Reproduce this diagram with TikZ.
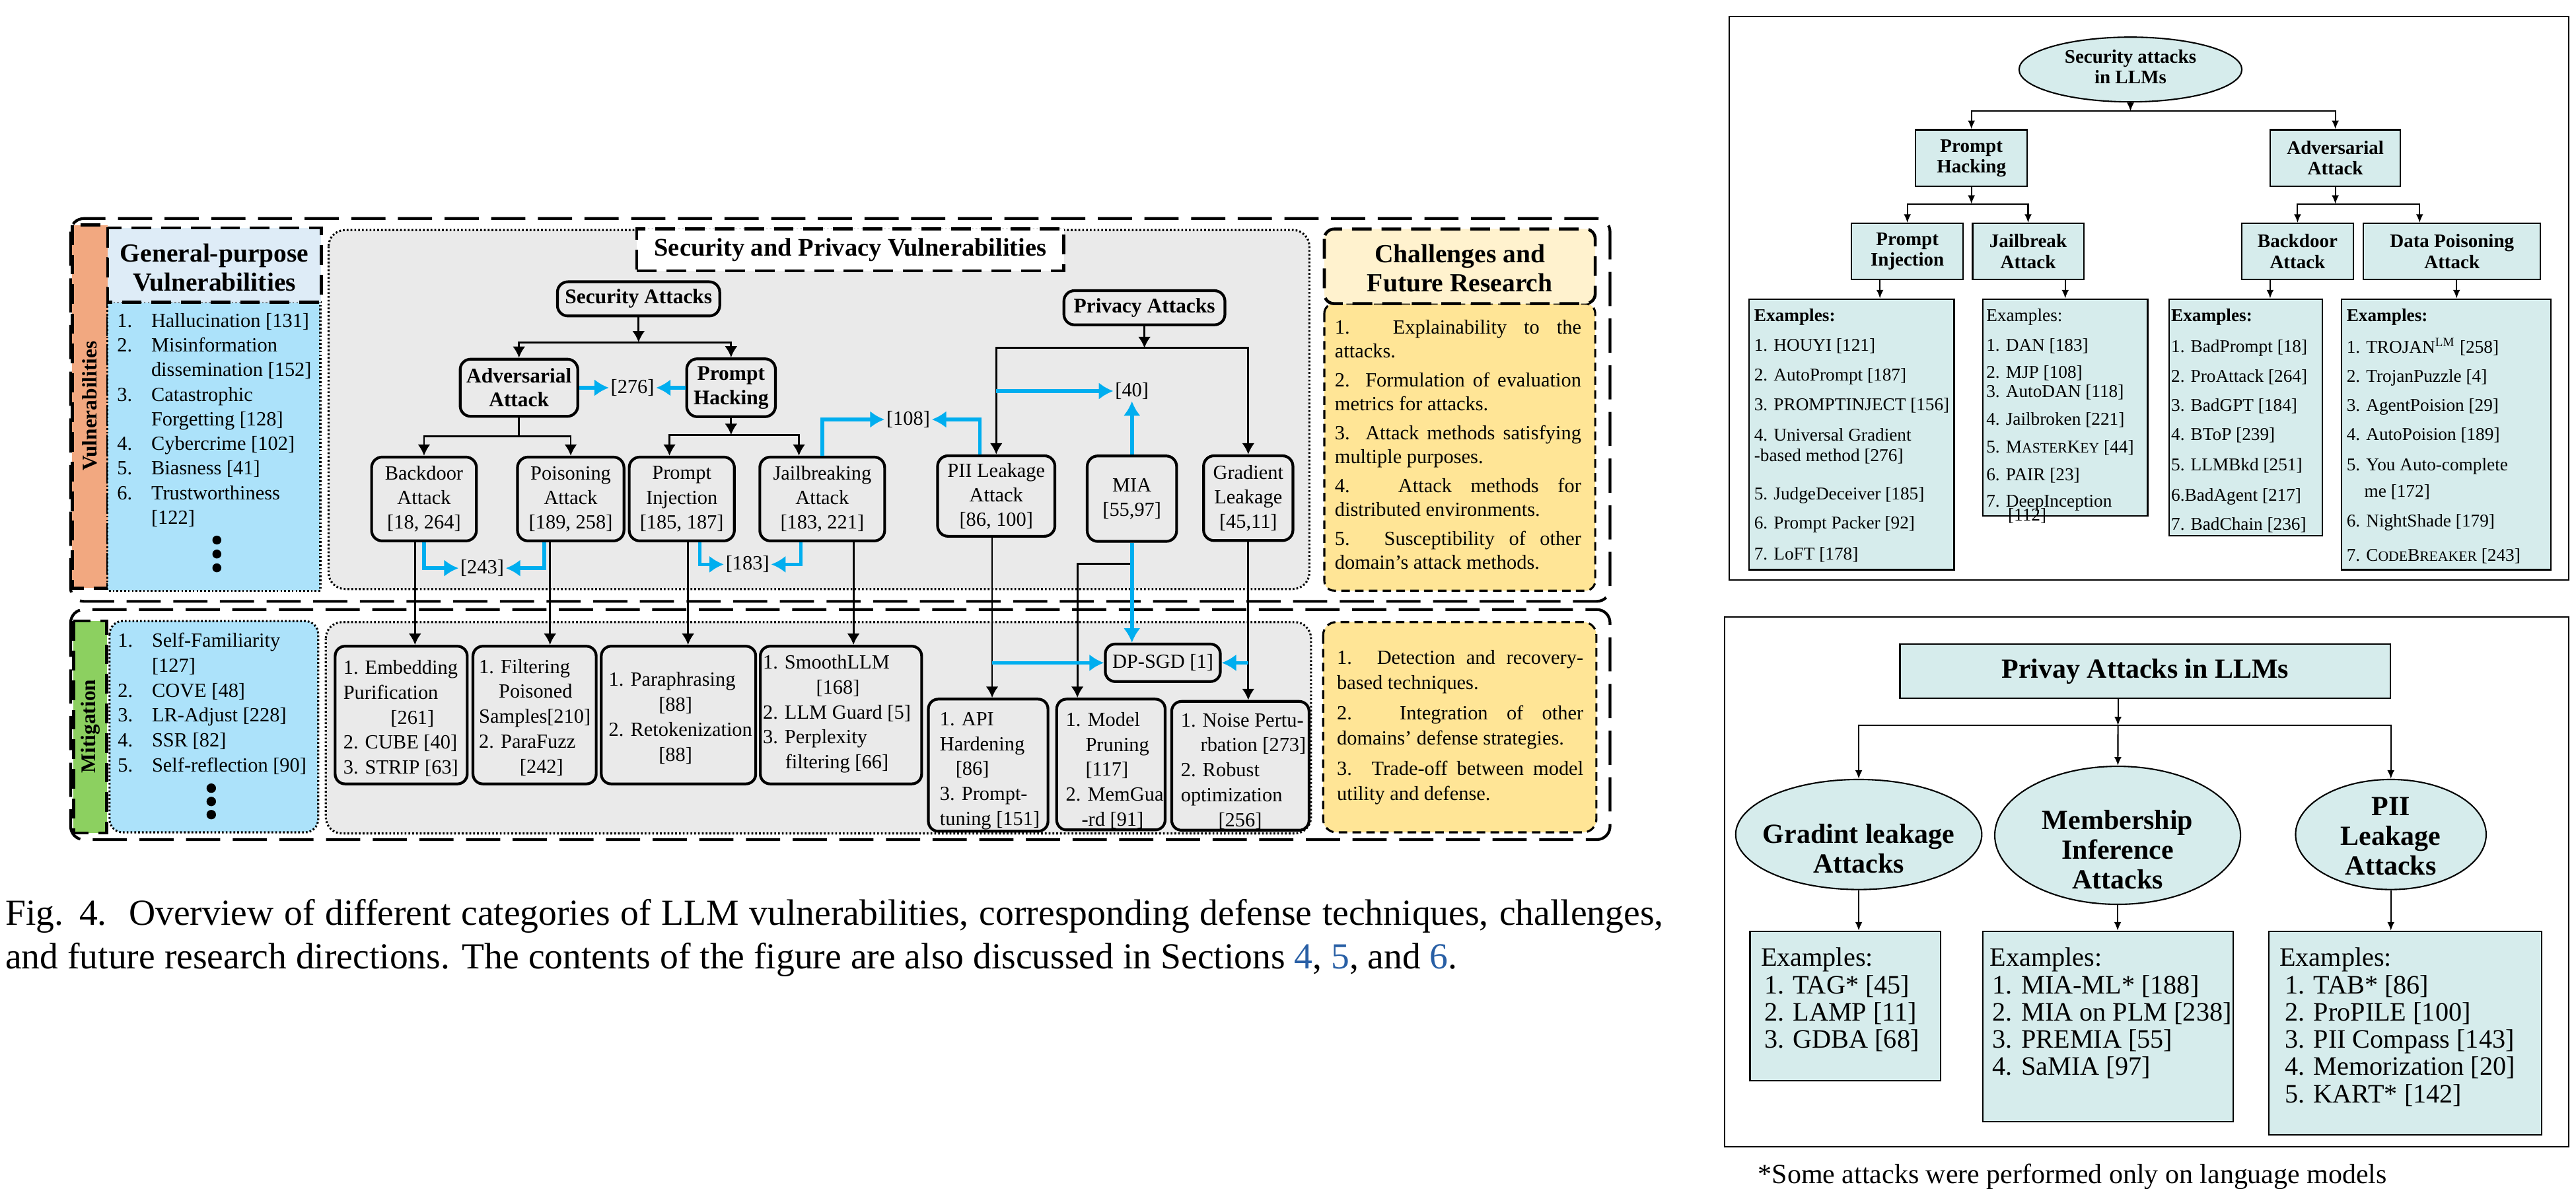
\documentclass[tikz,border=0pt]{standalone}
\usepackage{fontspec}
\setmainfont{Liberation Serif}
\usetikzlibrary{calc,shapes.geometric,arrows.meta}
\setlength{\parindent}{0pt}

\definecolor{vulnorange}{RGB}{242,168,128}
\definecolor{mitgreen}{RGB}{140,208,96}
\definecolor{listblue}{RGB}{172,226,250}
\definecolor{headblue}{RGB}{222,236,247}
\definecolor{panelgray}{RGB}{234,234,234}
\definecolor{headyellow}{RGB}{255,242,206}
\definecolor{listyellow}{RGB}{255,229,150}
\definecolor{linkblue}{RGB}{0,174,239}
\definecolor{tealbox}{RGB}{214,236,236}
\definecolor{refblue}{RGB}{40,95,165}

\newcommand{\numlab}[1]{\makebox[5.2mm][l]{#1}}
\newcommand{\fakesc}[1]{{\fontsize{6.2pt}{8pt}\selectfont #1}}

\tikzset{
  outerbox/.style={draw, line width=1.2pt, dash pattern=on 5.2mm off 1.9mm, rounded corners=2mm},
  headbox/.style={draw, line width=1.3pt, dash pattern=on 3mm off 1.5mm},
  dotpanel/.style={draw, line width=0.9pt, dash pattern=on 0.75pt off 0.9pt},
  finedash/.style={draw, line width=0.9pt, dash pattern=on 1.3mm off 0.8mm, rounded corners=1.5mm},
  sidelabel/.style={rotate=90, font=\bfseries\fontsize{9}{10}\selectfont},
  headtitle/.style={align=center, font=\bfseries\fontsize{11.3}{12.6}\selectfont},
  atk/.style={draw, line width=1.2pt, rounded corners=1.6mm, fill=panelgray, align=center, inner sep=1pt, font=\fontsize{8.7}{10.6}\selectfont},
  atkhead/.style={atk, font=\bfseries\fontsize{9}{10.4}\selectfont},
  mitbox/.style={draw, line width=1.2pt, rounded corners=1.5mm, fill=panelgray, inner sep=0pt},
  bodytext/.style={anchor=north west, inner sep=0pt, align=left, font=\fontsize{8.7}{10.8}\selectfont},
  reflab/.style={inner sep=0.6pt, font=\fontsize{8.7}{10}\selectfont},
  tree/.style={draw, line width=0.8pt, -{Latex[length=1.7mm,width=1.9mm]}},
  treeline/.style={draw, line width=0.8pt},
  bluelink/.style={draw=linkblue, line width=1.6pt, -{Latex[length=2.2mm,width=2.6mm]}},
  thinframe/.style={draw, line width=0.6pt},
  tealrect/.style={draw, line width=0.6pt, fill=tealbox, align=center, inner sep=0pt, font=\bfseries\fontsize{8.3}{8.9}\selectfont},
  tealell/.style={draw, line width=0.6pt, fill=tealbox, ellipse, inner sep=0pt},
  elltext/.style={align=center, inner sep=0pt, font=\bfseries\fontsize{12}{12.8}\selectfont},
  exbox/.style={draw, line width=0.6pt, fill=tealbox, inner sep=0pt, anchor=north west},
  exlist/.style={anchor=north west, inner sep=0pt, align=left, font=\fontsize{7.8}{8.8}\selectfont},
  exlistb/.style={anchor=north west, inner sep=0pt, align=left, font=\fontsize{11.5}{11.8}\selectfont},
  thinarrow/.style={draw, line width=0.6pt, -{Latex[length=1.3mm,width=1.1mm]}},
}

\begin{document}
\begin{tikzpicture}[x=0.25mm,y=-0.25mm]
\fill[white] (0,0) rectangle (1568,726);
\useasboundingbox (0,0) rectangle (1568,726);

% ---------------- overview (left) ----------------
\draw[outerbox] (43,133) rectangle (980,366);
\draw[outerbox] (43,371) rectangle (980,511);

\draw[headbox, fill=vulnorange] (44,137) rectangle (65.5,358);
\node[sidelabel] (vulnlab) at (54.8,247) {Vulnerabilities};
\draw[headbox, fill=mitgreen] (44.8,378) rectangle (65,507);
\node[sidelabel] (mitlab) at (55,442) {Mitigation};

% general-purpose column
\draw[dotpanel, fill=listblue] (65.5,184) rectangle (195,359.5);
\draw[headbox, fill=headblue] (65.5,138.7) rectangle (195.5,184);
\node[headtitle] (gptitle) at (130.5,162.9) {General-purpose\\Vulnerabilities};
\node[bodytext, font=\fontsize{8.7}{10.65}\selectfont] (gplist) at (71,190.4) {\numlab{1.}Hallucination [131]\\
\numlab{2.}Misinformation\\
\hspace*{5.2mm}dissemination [152]\\
\numlab{3.}Catastrophic\\
\hspace*{5.2mm}Forgetting [128]\\
\numlab{4.}Cybercrime [102]\\
\numlab{5.}Biasness [41]\\
\numlab{6.}Trustworthiness\\
\hspace*{5.2mm}[122]};
\foreach \y in {328.7,337.2,345.6} \fill (132,\y) circle (0.68mm);

\draw[dotpanel, fill=listblue, rounded corners=2mm] (66.7,378) rectangle (193.7,506.6);
\node[bodytext] (mitlist) at (71.4,384.9) {\numlab{1.}Self-Familiarity\\
\hspace*{5.2mm}[127]\\
\numlab{2.}COVE [48]\\
\numlab{3.}LR-Adjust [228]\\
\numlab{4.}SSR [82]\\
\numlab{5.}Self-reflection [90]};
\foreach \y in {479.7,487.8,495.8} \fill (128.6,\y) circle (0.72mm);

% security and privacy panels
\draw[dotpanel, fill=panelgray, rounded corners=2.5mm] (200,140) rectangle (797,358.5);
\draw[dotpanel, fill=panelgray, rounded corners=2.5mm] (198.3,378.6) rectangle (798,507.3);
\node[headbox, fill=white, inner sep=0pt, minimum width=65mm, minimum height=6.35mm, font=\bfseries\fontsize{11}{12}\selectfont] (sptitle) at (517.6,152.1) {Security and Privacy Vulnerabilities};

% challenges column
\draw[finedash, fill=listyellow] (806.1,184.8) rectangle (971,359.5);
\draw[headbox, fill=headyellow, rounded corners=1.5mm] (806.1,139.4) rectangle (971,184.8);
\node[headtitle] (chtitle) at (888.6,163.3) {Challenges and\\Future Research};
\node[bodytext, align=justify, text width=37.5mm, font=\fontsize{8.7}{10.35}\selectfont] (chlist) at (812.2,194.3) {1. Explainability to the\linebreak attacks.\par\vspace{2.2pt}
2. Formulation of evaluation\linebreak metrics for attacks.\par\vspace{2.2pt}
3. Attack methods satisfying\linebreak multiple purposes.\par\vspace{2.2pt}
4. Attack methods for\linebreak distributed environments.\par\vspace{2.2pt}
5. Susceptibility of other\linebreak domain's attack methods.};

\draw[finedash, fill=listyellow, rounded corners=2mm] (805.4,378.6) rectangle (971.7,506.6);
\node[bodytext, align=justify, text width=37.5mm, font=\fontsize{8.7}{10.8}\selectfont] (mitchal) at (813.5,395.6) {1. Detection and recovery-\linebreak based techniques.\par\vspace{2.4pt}
2. Integration of other\linebreak domains' defense strategies.\par\vspace{2.4pt}
3. Trade-off between model\linebreak utility and defense.};

% attack tree
\node[atkhead, minimum width=24.7mm, minimum height=5.2mm] (secatk) at (388.7,181.9) {Security Attacks};
\node[atkhead, minimum width=24.5mm, minimum height=5.2mm] (privatk) at (696.6,187.3) {Privacy Attacks};
\node[atkhead, minimum width=17.9mm, minimum height=8.7mm] (adv) at (315.9,236) {Adversarial\\Attack};
\node[atkhead, minimum width=13.5mm, minimum height=8.8mm] (phack) at (445,236) {Prompt\\Hacking};

\node[atk, minimum width=15.95mm, minimum height=12.75mm] (bdoor) at (258.1,303.7) {Backdoor\\Attack\\{}[18, 264]};
\node[atk, minimum width=16.2mm, minimum height=12.75mm] (pois) at (347.4,303.7) {Poisoning\\Attack\\{}[189, 258]};
\node[atk, minimum width=16mm, minimum height=12.75mm] (pinj) at (415,303.7) {Prompt\\Injection\\{}[185, 187]};
\node[atk, minimum width=19mm, minimum height=12.75mm] (jbreak) at (500.5,303.7) {Jailbreaking\\Attack\\{}[183, 221]};
\node[atk, minimum width=17.85mm, minimum height=12.25mm] (pii) at (606.4,301.9) {PII Leakage\\Attack\\{}[86, 100]};
\node[atk, minimum width=13.6mm, minimum height=13mm] (mia) at (689,303.5) {MIA\\{}[55,97]};
\node[atk, minimum width=13.6mm, minimum height=12.9mm] (grad) at (759.8,303.2) {Gradient\\Leakage\\{}[45,11]};

% mitigation boxes
\node[mitbox, minimum width=20.1mm, minimum height=20.95mm] (emb) at (244.2,435.2) {};
\node[mitbox, minimum width=18.75mm, minimum height=20.95mm] (filt) at (325.4,435.2) {};
\node[mitbox, minimum width=23.5mm, minimum height=20.95mm] (para) at (413,435.2) {};
\node[mitbox, minimum width=24.55mm, minimum height=20.95mm] (smooth) at (511.9,435.2) {};
\node[mitbox, minimum width=18.2mm, minimum height=20.1mm] (api) at (601.5,465.7) {};
\node[mitbox, minimum width=16.5mm, minimum height=19.9mm] (mprune) at (676.2,465.3) {};
\node[mitbox, minimum width=20.9mm, minimum height=19.6mm] (noise) at (755,466.1) {};
\node[mitbox, minimum width=17.5mm, minimum height=5.7mm, font=\fontsize{8.7}{10}\selectfont] (dpsgd) at (707.8,403.4) {DP-SGD [1]};

\node[bodytext] (embtxt) at (208.7,401.6) {1. Embedding\\Purification\\\hspace*{7.2mm}[261]\\2. CUBE [40]\\3. STRIP [63]};
\node[bodytext] (filttxt) at (291.3,401) {1. Filtering\\\hspace*{3mm}Poisoned\\Samples[210]\\2. ParaFuzz\\\hspace*{6.2mm}[242]};
\node[bodytext] (paratxt) at (370.3,408.9) {1. Paraphrasing\\\hspace*{7.6mm}[88]\\2. Retokenization\\\hspace*{7.6mm}[88]};
\node[bodytext] (smoothtxt) at (464.1,398.3) {1. SmoothLLM\\\hspace*{8.1mm}[168]\\2. LLM Guard [5]\\3. Perplexity\\\hspace*{3.4mm}filtering [66]};
\node[bodytext] (apitxt) at (571.8,433.2) {1. API\\Hardening\\\hspace*{2.4mm}[86]\\3. Prompt-\\tuning [151]};
\node[bodytext] (mptxt) at (648.5,433.2) {1. Model\\\hspace*{3mm}Pruning\\\hspace*{3mm}[117]\\2. MemGua\\\hspace*{2.4mm}-rd [91]};
\node[bodytext] (noisetxt) at (718.5,433.9) {1. Noise Pertu-\\\hspace*{3mm}rbation [273]\\2. Robust\\optimization\\\hspace*{5.7mm}[256]};

% tree connectors
\coordinate (secj) at (388.7,208.3);
\draw[tree] (secatk) -- (secj);
\draw[tree] (secj) -| (adv);
\draw[tree] (secj) -| (phack);
\coordinate (advj) at (315.9,265.4);
\draw[treeline] (adv) -- (advj);
\draw[tree] (advj) -| (bdoor);
\draw[tree] (advj) -| (pois);
\coordinate (phj) at (445,264.7);
\coordinate (pinjin) at ($(pinj.north)+(-7.5,0)$);
\coordinate (jbin) at ($(jbreak.north)+(-14.2,0)$);
\draw[tree] (phack) -- (phj);
\draw[tree] (phj) -| (pinjin);
\draw[tree] (phj) -| (jbin);
\coordinate (prvj) at (696.6,211.8);
\draw[tree] (privatk) -- (prvj);
\draw[tree] (prvj) -| (pii);
\draw[tree] (prvj) -| (grad);

% down to mitigation
\coordinate (bdout) at ($(bdoor.south)+(-5.5,0)$);
\coordinate (poisout) at ($(pois.south)+(-12.6,0)$);
\coordinate (pinjout) at ($(pinj.south)+(3.8,0)$);
\coordinate (jbout) at ($(jbreak.south)+(19,0)$);
\coordinate (piiout) at ($(pii.south)+(-2.5,0)$);
\draw[tree] (bdout) -- (bdout |- emb.north);
\draw[tree] (poisout) -- (poisout |- filt.north);
\draw[tree] (pinjout) -- (pinjout |- para.north);
\draw[tree] (jbout) -- (jbout |- smooth.north);
\draw[tree] (piiout) -- (piiout |- api.north);
\coordinate (miaj) at (655.8,343.1);
\draw[tree] (mia.south) |- (miaj) -- (miaj |- mprune.north);
\draw[tree] (grad.south) -- (grad.south |- noise.north);

% shared references
\node[reflab] (r276) at (385,236) {[276]};
\node[reflab] (r40) at (689,238) {[40]};
\node[reflab] (r108) at (552.8,255.3) {[108]};
\node[reflab] (r243) at (293.5,345.8) {[243]};
\node[reflab] (r183) at (455,343.5) {[183]};
\draw[bluelink] (adv) -- (r276);
\draw[bluelink] (phack) -- (r276);
\coordinate (piiside) at (pii |- r40);
\draw[bluelink] (piiside) -- (r40);
\draw[bluelink] (mia) -- (r40);
\draw[bluelink] (jbreak.north) |- (r108);
\coordinate (piiup) at ($(pii.north)+(-10,0)$);
\draw[bluelink] (piiup) |- (r108);
\draw[bluelink] (bdoor.south) |- (r243);
\coordinate (poisdn) at ($(pois.south)+(-16,0)$);
\draw[bluelink] (poisdn) |- (r243);
\coordinate (pinjdn) at ($(pinj.south)+(11,0)$);
\draw[bluelink] (pinjdn) |- (r183);
\coordinate (jbdn) at ($(jbreak.south)+(-13,0)$);
\draw[bluelink] (jbdn) |- (r183);
\draw[bluelink] (mia.south) -- (mia.south |- dpsgd.north);
\draw[bluelink] (piiout |- dpsgd) -- (dpsgd);
\draw[bluelink] (grad.south |- dpsgd) -- (dpsgd);

% caption
\node[anchor=north west, inner sep=0pt, text width=252.3mm, align=justify, font=\fontsize{15.9}{19}\selectfont] (figcap) at (3,547) {Fig. 4.\hspace{0.6em}Overview of different categories of LLM vulnerabilities, corresponding defense techniques, challenges,\linebreak and future research directions. The contents of the figure are also discussed in Sections \textcolor{refblue}{4}, \textcolor{refblue}{5}, and \textcolor{refblue}{6}.};

% ---------------- security attacks in LLMs (top right) ----------------
\draw[thinframe] (1052.7,10.2) rectangle (1563.7,353.1);
\node[tealell, minimum width=33.9mm, minimum height=9.85mm] (secllm) at (1296.8,42.3) {};
\node[align=center, inner sep=0pt, font=\bfseries\fontsize{8.3}{8.9}\selectfont] (secllmtxt) at (1296.8,40.6) {Security attacks\\in LLMs};
\node[tealrect, minimum width=16.95mm, minimum height=8.6mm] (rphack) at (1200,96.2) {Prompt\\Hacking};
\node[tealrect, minimum width=19.85mm, minimum height=8.6mm] (radv) at (1421.5,96.2) {Adversarial\\Attack};
\node[tealrect, minimum width=17mm, minimum height=8.5mm] (rpinj) at (1161,153) {Prompt\\Injection};
\node[tealrect, minimum width=16.9mm, minimum height=8.5mm] (rjb) at (1234.5,153) {Jailbreak\\Attack};
\node[tealrect, minimum width=16.95mm, minimum height=8.5mm] (rbd) at (1398.5,153) {Backdoor\\Attack};
\node[tealrect, minimum width=26.9mm, minimum height=8.5mm] (rdp) at (1492.5,153) {Data Poisoning\\Attack};

\node[exbox, minimum width=31.18mm, minimum height=41.18mm] (piex) at (1064.3,181.6) {};
\node[exbox, minimum width=25.08mm, minimum height=32.95mm] (jbex) at (1206.5,181.6) {};
\node[exbox, minimum width=23.33mm, minimum height=36.05mm] (bdex) at (1320,181.6) {};
\node[exbox, minimum width=31.83mm, minimum height=41.18mm] (dpex) at (1424.8,181.6) {};

\node[exlist] (piextxt) at (1067.5,187.7) {\textbf{Examples:}\\[4pt]
1. HOUYI [121]\\[4pt]
2. AutoPrompt [187]\\[4.3pt]
3. PROMPTINJECT [156]\\[4.2pt]
4. Universal Gradient\\
-based method [276]\\[8pt]
5. JudgeDeceiver [185]\\[3.7pt]
6. Prompt Packer [92]\\[4.6pt]
7. LoFT [178]};
\node[exlist] (jbextxt) at (1208.8,187.7) {Examples:\\[4pt]
1. DAN [183]\\[2.9pt]
2. MJP [108]\\[-0.5pt]
3. AutoDAN [118]\\[3.2pt]
4. Jailbroken [221]\\[3.2pt]
5. M\fakesc{ASTER}K\fakesc{EY} [44]\\[3.2pt]
6. PAIR [23]\\[2.7pt]
7. DeepInception\\[-2.7pt]
\hspace*{3.3mm}[112]};
\node[exlist] (bdextxt) at (1321.3,187.7) {\textbf{Examples:}\\[4.5pt]
1. BadPrompt [18]\\[4.2pt]
2. ProAttack [264]\\[3.8pt]
3. BadGPT [184]\\[3.9pt]
4. BToP [239]\\[4.2pt]
5. LLMBkd [251]\\[4.3pt]
6.BadAgent [217]\\[3.8pt]
7. BadChain [236]};
\node[exlist] (dpextxt) at (1428.1,187.7) {\textbf{Examples:}\\[4.8pt]
1. TROJAN\textsuperscript{LM} [258]\\[4pt]
2. TrojanPuzzle [4]\\[3.7pt]
3. AgentPoision [29]\\[3.9pt]
4. AutoPoision [189]\\[4.2pt]
5. You Auto-complete\\[2.8pt]
\hspace*{2.7mm}me [172]\\[4pt]
6. NightShade [179]\\[6pt]
7. C\fakesc{ODE}B\fakesc{REAKER} [243]};

\coordinate (secllmj) at (1296.8,67.7);
\draw[thinarrow] (secllm) -- (secllmj);
\draw[thinarrow] (secllmj) -| (rphack);
\draw[thinarrow] (secllmj) -| (radv);
\coordinate (rphj) at (1200,124.1);
\draw[thinarrow] (rphack) -- (rphj);
\draw[thinarrow] (rphj) -| (rpinj);
\draw[thinarrow] (rphj) -| (rjb);
\coordinate (radvj) at (1421.5,124.1);
\coordinate (rdpin) at ($(rdp.north)+(-19.7,0)$);
\draw[thinarrow] (radv) -- (radvj);
\draw[thinarrow] (radvj) -| (rbd);
\draw[thinarrow] (radvj) -| (rdpin);
\coordinate (piarr) at ($(rpinj.south)+(-16.7,0)$);
\coordinate (jbarr) at ($(rjb.south)+(22.6,0)$);
\coordinate (bdarr) at ($(rbd.south)+(-16.7,0)$);
\coordinate (dparr) at ($(rdp.south)+(2.8,0)$);
\draw[thinarrow] (piarr) -- (piarr |- piex.north);
\draw[thinarrow] (jbarr) -- (jbarr |- jbex.north);
\draw[thinarrow] (bdarr) -- (bdarr |- bdex.north);
\draw[thinarrow] (dparr) -- (dparr |- dpex.north);

% ---------------- privacy attacks in LLMs (bottom right) ----------------
\draw[thinframe] (1049.7,375.6) rectangle (1563.6,698.1);
\node[tealrect, minimum width=74.65mm, minimum height=8.3mm, font=\bfseries\fontsize{12}{13}\selectfont] (prvllm) at (1305.8,408.5) {Privay Attacks in LLMs};
\node[tealell, minimum width=37.45mm, minimum height=16.75mm] (glell) at (1131.4,507.9) {};
\node[tealell, minimum width=37.4mm, minimum height=21mm] (miell) at (1289,508.4) {};
\node[tealell, minimum width=29mm, minimum height=16.75mm] (plell) at (1455.3,507.9) {};
\node[elltext] (gltxt) at (1131.4,516.5) {Gradint leakage\\Attacks};
\node[elltext] (mitxt) at (1289,517) {Membership\\Inference\\Attacks};
\node[elltext] (pltxt) at (1455.3,509) {PII\\Leakage\\Attacks};

\coordinate (prvllmj) at (1289.2,441.5);
\draw[thinarrow] (prvllmj |- prvllm.south) -- (prvllmj);
\draw[thinarrow] (prvllmj) -| (glell);
\draw[thinarrow] (prvllmj) -- (miell);
\draw[thinarrow] (prvllmj) -| (plell);

\node[exbox, minimum width=29mm, minimum height=22.7mm] (glex) at (1064.8,566.4) {};
\node[exbox, minimum width=38.05mm, minimum height=28.95mm] (miex) at (1206.6,566.4) {};
\node[exbox, minimum width=41.55mm, minimum height=30.95mm] (plex) at (1380.6,566.4) {};
\draw[thinarrow] (glell.south) -- (glell.south |- glex.north);
\draw[thinarrow] (miell.south) -- (miell.south |- miex.north);
\draw[thinarrow] (plell.south) -- (plell.south |- plex.north);

\node[exlistb] (glextxt) at (1071.6,576.6) {Examples:\\\hspace*{0.5mm}1. TAG* [45]\\\hspace*{0.5mm}2. LAMP [11]\\\hspace*{0.5mm}3. GDBA [68]};
\node[exlistb] (miextxt) at (1211,576.6) {Examples:\\\hspace*{0.4mm}1. MIA-ML* [188]\\\hspace*{0.4mm}2. MIA on PLM [238]\\\hspace*{0.4mm}3. PREMIA [55]\\\hspace*{0.4mm}4. SaMIA [97]};
\node[exlistb] (plextxt) at (1387.3,576.6) {Examples:\\\hspace*{0.8mm}1. TAB* [86]\\\hspace*{0.8mm}2. ProPILE [100]\\\hspace*{0.8mm}3. PII Compass [143]\\\hspace*{0.8mm}4. Memorization [20]\\\hspace*{0.8mm}5. KART* [142]};

\node[anchor=north west, inner sep=0pt, font=\fontsize{12}{14}\selectfont] (fnote) at (1069.9,708) {*Some attacks were performed only on language models};
\end{tikzpicture}
\end{document}
